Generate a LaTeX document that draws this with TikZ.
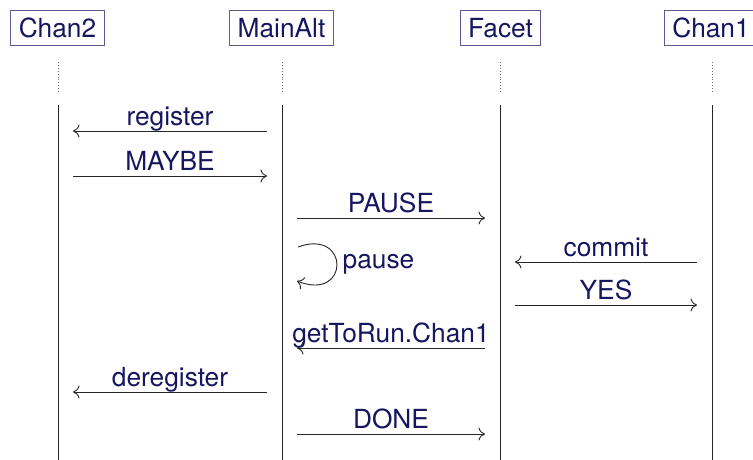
\documentclass[tikz,border=0pt]{standalone}
\usepackage{fontspec}
\setmainfont{TeX Gyre Heros}
\usetikzlibrary{arrows.meta}
\definecolor{msgtext}{RGB}{22,22,96}
\definecolor{boxline}{RGB}{96,88,146}
\begin{document}
\begin{tikzpicture}[
        x=1pt, y=-1pt,
        font=\fontsize{26.3}{31}\selectfont,
        every node/.style={text=msgtext},
        actor/.style={draw=boxline, line width=1.2pt, minimum height=35pt,
            inner xsep=8pt, text height=19pt, text depth=0pt},
        life/.style={line width=0.9pt, draw=black!85},
        msg/.style={-{To[length=6.5pt,width=13pt]}, line width=0.9pt, draw=black!85,
            shorten <=15pt, shorten >=15pt},
        lab/.style={anchor=base, yshift=6pt, inner sep=0pt}
    ]
    \useasboundingbox (0,0) rectangle (753,459);

    % actors
    \node[actor] (chan2) at (57.5,28) {Chan2};
    \node[actor] (mainalt) at (281.5,28) {MainAlt};
    \node[actor] (facet) at (500.5,28) {Facet};
    \node[actor] (chan1) at (711,28) {Chan1};

    % lifelines
    \foreach \n/\x in {chan2/58, mainalt/282, facet/500, chan1/712} {
        \coordinate (\n-a) at (\x,62);
        \coordinate (\n-b) at (\x,92);
        \coordinate (\n-c) at (\x,105);
        \coordinate (\n-d) at (\x,462);
        \draw[life, dotted, draw=black!60] (\n-a) -- (\n-b);
        \draw[life] (\n-c) -- (\n-d);
        \foreach \r/\y in {1/131, 2/176, 3/218, 4/262, 5/305, 6/348, 7/392, 8/434}
            \coordinate (\n-\r) at (\x,\y);
    }

    % messages
    \draw[msg] (mainalt-1) -- node[lab] {register} (chan2-1);
    \draw[msg] (chan2-2) -- node[lab] {MAYBE} (mainalt-2);
    \draw[msg] (mainalt-3) -- node[lab] {PAUSE} (facet-3);
    \draw[msg] (chan1-4) -- node[lab] {commit} (facet-4);
    \draw[msg] (facet-5) -- node[lab] {YES} (chan1-5);
    \draw[msg] (facet-6) -- node[lab] {getToRun.Chan1} (mainalt-6);
    \draw[msg] (mainalt-7) -- node[lab] {deregister} (chan2-7);
    \draw[msg] (mainalt-8) -- node[lab] {DONE} (facet-8);

    % self call
    \coordinate (loop-s) at (298,247);
    \coordinate (loop-e) at (297,281);
    \draw[msg, shorten <=0pt, shorten >=0pt] (loop-s)
        .. controls (350,228) and (350,302) .. (loop-e)
        node[right, pos=0.5, xshift=2pt] (pausel) {pause};
\end{tikzpicture}
\end{document}
